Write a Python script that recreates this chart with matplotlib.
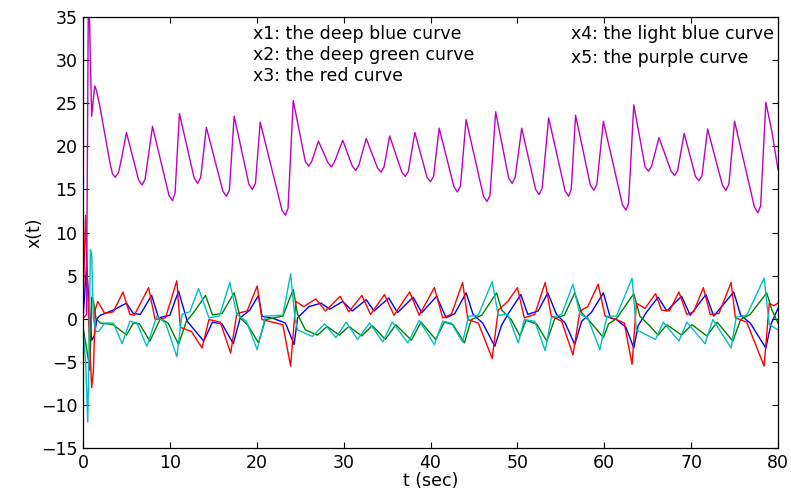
import matplotlib
matplotlib.use("Agg")
import matplotlib.pyplot as plt

plt.rcParams['font.family'] = ['DejaVu Sans']

# ---- data: (t, value) pairs ----
x1_blue = [(0, 0), (0.4, 6), (0.7, 2), (1.0, -2.5), (1.3, -2), (1.6, 0), (2.0, 0.4), (3.5, 1.0),
           (5.0, 1.8), (5.8, 0.6), (6.6, 0.5), (7.9, 2.7), (8.7, 0.1), (10.0, 0.4), (11.0, 3.2),
           (12.0, -0.3), (13.9, -2.6), (14.9, -0.4), (16.0, -0.6), (17.3, -2.9), (18.1, 0.1),
           (19.2, 1.0), (20.2, 2.7), (20.6, 0.3), (22.0, 0.0), (23.3, -0.5), (24.3, -3.0),
           (24.7, 0.1), (26.0, 1.4), (27.4, 1.8), (28.4, 1.1), (29.9, 2.0), (31.0, 0.9),
           (32.6, 2.2), (33.5, 0.9), (35.2, 2.4), (36.2, 0.7), (38.0, 2.5), (39.0, 0.7),
           (40.7, 2.6), (41.8, 0.1), (42.8, 0.6), (44.1, 3.0), (44.9, 0.5), (46.0, -0.5),
           (47.4, -3.2), (48.2, -0.7), (49.1, 0.8), (50.4, 2.8), (51.2, 0.5), (52.4, 0.9),
           (53.5, 3.0), (54.5, 0.5), (55.5, -0.5), (56.6, -3.0), (57.4, -0.3), (58.5, 0.7),
           (59.9, 3.0), (60.7, 0.1), (61.4, -0.1), (62.5, -1.0), (63.4, -3.4), (63.9, -0.8),
           (64.9, 0.8), (66.2, 2.5), (67.2, 0.9), (68.9, 2.6), (69.9, 0.4), (71.7, 2.8),
           (72.6, 0.3), (74.9, 3.1), (75.7, 0.4), (76.8, -0.5), (78.6, -3.4), (79.2, -0.6),
           (80, 1.2)]

x2_green = [(0, -1), (0.5, -4), (0.8, -6), (1.0, 2.5), (1.2, 2), (1.5, 0), (2.0, -0.5),
            (3.5, -0.7), (5.0, -1.9), (5.8, -0.5), (6.5, -0.6), (7.7, -2.6), (8.9, 0.0),
            (9.8, -0.5), (11.0, -3.0), (11.9, -0.3), (12.8, 0.8), (14.1, 2.7), (14.9, 0.45),
            (16.0, 0.6), (17.4, 3.0), (18.1, 0.1), (19.0, -0.8), (20.2, -2.8), (21.0, -0.1),
            (23.0, 0.3), (24.2, 3.4), (24.7, 0.5), (25.6, -1.3), (27.0, -1.9), (28.1, -0.9),
            (29.5, -1.9), (30.6, -0.9), (32.1, -2.0), (33.3, -0.8), (34.8, -2.4), (36.0, -0.7),
            (37.8, -2.5), (38.9, -0.4), (40.6, -2.4), (41.6, -0.4), (42.6, -0.7), (43.9, -2.8),
            (44.7, -0.1), (45.9, 0.4), (47.6, 3.0), (48.2, 1.0), (49.3, -0.1), (50.3, -2.0),
            (51.0, -0.2), (52.2, -0.6), (53.4, -2.6), (54.3, 0.0), (55.4, 0.4), (56.6, 3.0),
            (57.4, 0.7), (58.5, -0.5), (59.9, -2.2), (60.5, -0.6), (61.4, 0.0), (63.4, 2.9),
            (64.1, 0.3), (65.3, -0.9), (66.2, -1.9), (67.2, -0.7), (68.9, -1.9), (70.1, -0.7),
            (71.8, -2.0), (73.0, -0.4), (74.8, -2.6), (75.7, -0.1), (76.8, 0.5), (78.7, 3.0),
            (79.3, 1.0), (80, -0.5)]

x3_red = [(0, 1.5), (0.3, 12), (0.5, 5), (0.7, -2), (1.0, -8), (1.2, -6), (1.4, 1.0), (1.7, 2.0),
          (2.5, 0.6), (3.5, 0.8), (4.6, 3.1), (5.4, 0.5), (5.9, 0.4), (7.55, 3.6), (8.3, -0.1),
          (9.5, 0.1), (10.8, 4.4), (11.2, -1.0), (12.5, -1.5), (13.7, -3.4), (14.5, -0.1),
          (15.8, -0.4), (17.0, -4.0), (17.7, 0.6), (18.9, 0.9), (20.05, 3.8), (20.6, -0.1),
          (21.8, -0.4), (23.0, -0.7), (23.9, -5.5), (24.5, 2.0), (25.4, 1.4), (26.8, 2.3),
          (27.9, 0.9), (29.6, 2.6), (30.6, 0.8), (32.1, 2.7), (33.1, 0.5), (34.7, 2.8),
          (35.8, 0.4), (37.6, 3.1), (38.7, 0.4), (40.45, 3.6), (41.4, 0.1), (42.4, 0.5),
          (43.7, 4.2), (44.3, -0.1), (45.5, -0.5), (47.1, -4.6), (47.8, 1.0), (48.9, 2.0),
          (50.0, 3.6), (50.8, 0.1), (52.0, 0.5), (53.2, 4.2), (53.9, 0.3), (55.1, -0.3),
          (56.4, -4.2), (57.2, 0.9), (58.1, 1.4), (59.3, 4.0), (60.1, 0.3), (61.4, -0.1),
          (62.3, -0.5), (63.2, -5.3), (63.7, 1.8), (64.7, 1.2), (65.9, 2.9), (66.6, 1.0),
          (67.5, 0.9), (68.6, 3.1), (69.5, 0.5), (70.3, 0.8), (71.4, 3.6), (72.2, 0.5),
          (73.2, 0.6), (74.6, 4.2), (75.1, 0.1), (76.4, -0.4), (78.4, -5.5), (79.0, 1.8),
          (79.5, 1.5), (80, 1.8)]

x4_cyan = [(0, -1), (0.3, -5), (0.55, -12), (0.75, 0), (0.85, 8), (1.0, 7.5), (1.2, 0),
           (1.5, -1.5), (1.8, -1.5), (2.5, -0.5), (3.5, -0.5), (4.5, -2.9), (5.4, -0.3),
           (6.2, -0.5), (7.35, -3.2), (8.5, 0.3), (9.5, -0.5), (10.8, -4.4), (11.4, 0.5),
           (12.3, 0.8), (13.3, 3.5), (14.5, 0.1), (15.7, 0.3), (16.9, 4.2), (17.7, 0.5),
           (18.8, -0.3), (20.05, -3.6), (21.0, 0.3), (23.0, 0.4), (23.9, 5.2), (24.4, 0.0),
           (24.7, -1.3), (26.4, -2.05), (27.8, -0.6), (29.1, -2.2), (30.3, -0.4), (31.6, -2.4),
           (33.0, -0.5), (34.5, -2.7), (35.6, -0.4), (37.4, -2.8), (38.7, -0.2), (40.45, -3.0),
           (41.4, -0.3), (42.4, -0.5), (43.7, -2.7), (44.4, 0.3), (45.5, 0.4), (47.1, 4.3),
           (47.8, 0.4), (48.9, 0.5), (50.1, -2.8), (50.8, -0.1), (52.0, -0.3), (53.2, -3.7),
           (53.9, 0.1), (55.1, 0.5), (56.4, 4.0), (57.2, 0.5), (58.1, 0.1), (59.5, -3.6),
           (60.3, 0.3), (61.4, 0.3), (63.2, 4.7), (63.7, -1.3), (65.9, -2.4), (66.8, -0.4),
           (68.6, -2.6), (69.5, -0.4), (71.6, -2.9), (72.5, -0.1), (74.6, -3.4), (75.2, 0.2),
           (76.4, 0.4), (78.4, 4.7), (79.0, -0.7), (80, -1.3)]

x5_purple = [(0, 0), (0.4, 0.5), (0.6, 34.8), (0.75, 34.8), (0.85, 30), (1.0, 23.5), (1.35, 27.0),
             (1.55, 26.5), (2.0, 24.3), (3.1, 18.1), (3.4, 16.8), (3.7, 16.4), (4.1, 17.0),
             (4.5, 18.9), (5.0, 21.6),
             (6.4, 16.1), (6.8, 15.5), (7.15, 16.2), (8.0, 22.3),
             (9.9, 14.3), (10.3, 13.7), (10.6, 14.6), (11.1, 23.8),
             (12.8, 16.3), (13.2, 15.7), (13.55, 16.4), (14.2, 22.2),
             (16.1, 14.8), (16.5, 14.2), (16.85, 14.9), (17.4, 23.5),
             (19.1, 15.6), (19.5, 15.0), (19.85, 15.7), (20.4, 22.8),
             (22.9, 12.6), (23.3, 12.0), (23.6, 12.8), (24.2, 25.3),
             (25.6, 18.2), (26.0, 17.7), (26.35, 18.3), (27.1, 20.6),
             (28.2, 18.1), (28.6, 17.6), (28.95, 18.2), (29.9, 20.7),
             (31.0, 17.7), (31.4, 17.2), (31.75, 17.8), (32.6, 20.9),
             (33.9, 17.5), (34.3, 17.0), (34.65, 17.6), (35.3, 21.2),
             (36.7, 17.0), (37.1, 16.5), (37.45, 17.1), (38.2, 21.6),
             (39.6, 16.4), (40.0, 15.9), (40.35, 16.5), (41.0, 22.1),
             (42.7, 15.3), (43.1, 14.7), (43.45, 15.4), (44.1, 23.1),
             (46.1, 14.2), (46.5, 13.6), (46.85, 14.3), (47.5, 24.0),
             (49.0, 16.3), (49.4, 15.7), (49.75, 16.4), (50.5, 22.1),
             (52.1, 15.0), (52.5, 14.4), (52.85, 15.1), (53.6, 23.3),
             (55.5, 14.8), (55.9, 14.2), (56.2, 15.0), (56.7, 23.6),
             (58.4, 15.5), (58.8, 14.9), (59.15, 15.6), (59.9, 22.9),
             (62.1, 13.2), (62.5, 12.6), (62.8, 13.4), (63.4, 24.8),
             (64.7, 17.6), (65.1, 17.1), (65.45, 17.7), (66.3, 21.0),
             (67.7, 17.1), (68.1, 16.6), (68.45, 17.2), (69.2, 21.5),
             (70.5, 16.5), (70.9, 16.0), (71.25, 16.6), (71.9, 22.0),
             (73.6, 15.5), (74.0, 14.9), (74.35, 15.6), (75.0, 22.9),
             (77.3, 12.9), (77.7, 12.3), (78.0, 13.1), (78.6, 25.1),
             (79.3, 21.7), (80, 17.3)]

legend_left = ["x1: the deep blue curve", "x2: the deep green curve", "x3: the red curve"]
legend_right = ["x4: the light blue curve", "x5: the purple curve"]
x_ticks = [0, 10, 20, 30, 40, 50, 60, 70, 80]
y_ticks = [-15, -10, -5, 0, 5, 10, 15, 20, 25, 30, 35]

series = [(x1_blue, '#0000FF'), (x2_green, '#008000'), (x3_red, '#FF0000'),
          (x4_cyan, '#00BFBF'), (x5_purple, '#BF00BF')]

fig = plt.figure(figsize=(7.91, 4.95), dpi=100)
ax = fig.add_axes([83 / 791, 47 / 495, 695 / 791, 431 / 495])

for pts, col in series:
    t = [p[0] for p in pts]
    v = [p[1] for p in pts]
    ax.plot(t, v, color=col, lw=1.0)

ax.set_xlim(0, 80)
ax.set_ylim(-15, 35)
ax.set_xticks(x_ticks)
ax.set_yticks(y_ticks)
ax.tick_params(direction='in', top=True, right=True, length=4, width=0.8,
               labelsize=12.5, pad=4)
for s in ax.spines.values():
    s.set_linewidth(0.9)
ax.set_xlabel('t (sec)', fontsize=12.5, labelpad=0)
ax.set_ylabel('x(t)', fontsize=12.5, labelpad=-2)

for i, s in enumerate(legend_left):
    ax.text(19.6, 33.0 - i * 2.4, s, fontsize=12.5, va='center', ha='left')
for i, s in enumerate(legend_right):
    ax.text(56.2, 33.0 - i * 2.8, s, fontsize=12.5, va='center', ha='left')

fig.savefig('out.png', dpi=100)
